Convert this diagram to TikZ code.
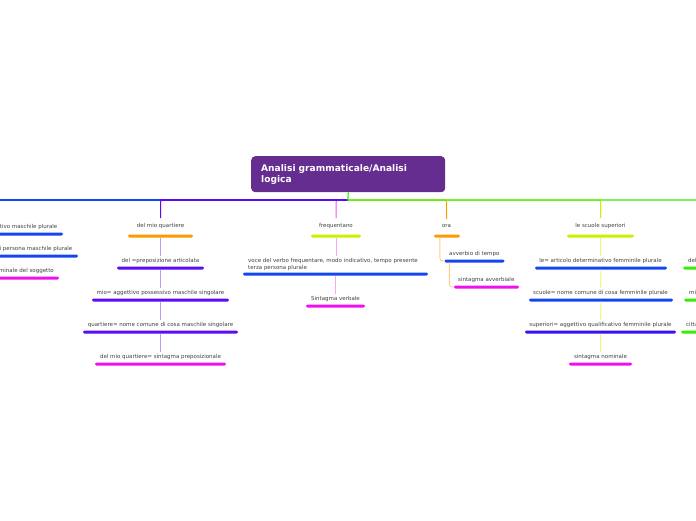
\documentclass[tikz,border=0pt]{standalone}
\usepackage{fontspec}
\setmainfont{DejaVu Sans}
\definecolor{rootpurple}{HTML}{662D91}
\definecolor{textgray}{HTML}{404040}
\definecolor{cblue}{HTML}{1446F0}
\definecolor{cpurple}{HTML}{5B0AF5}
\definecolor{cindigo}{HTML}{3A10F0}
\definecolor{cmagenta}{HTML}{EE11EE}
\definecolor{corange}{HTML}{FF9900}
\definecolor{clime}{HTML}{CCF000}
\definecolor{cgreen}{HTML}{33EE00}
\definecolor{clavender}{HTML}{BB99FF}
\definecolor{clpink}{HTML}{F7A8F7}
\definecolor{cpink}{HTML}{EE55EE}
\definecolor{clorange}{HTML}{FFCC88}
\definecolor{clyellow}{HTML}{EEF577}
\begin{document}
\begin{tikzpicture}[x=1pt,y=-1pt,
  txt/.style={text=textgray, font=\fontsize{5.5}{6.4}\selectfont, inner sep=0pt},
  barnode/.style={fill=#1, rounded corners=1.4pt, inner sep=0pt, minimum height=3pt},
  mainline/.style={draw=#1, line width=1.2pt},
  topconn/.style={draw=#1, line width=1pt, rounded corners=2pt, shorten >=5pt},
  subconn/.style={draw=#1, line width=0.9pt, shorten >=2.5pt},
  rootbox/.style={fill=rootpurple, rounded corners=4pt, text=white,
    font=\fontsize{9.1}{11}\bfseries, align=left, text width=174pt,
    inner xsep=10pt, inner ysep=0pt, minimum height=36pt, anchor=north west}
]
\useasboundingbox (0,0) rectangle (696,520);
\begin{scope}
\clip (0,0) rectangle (696,520);

% root
\node[rootbox] (root) at (251,156) {Analisi grammaticale/Analisi\\logica};
\coordinate (hub) at (348,200);
\coordinate (lend) at (-10,200);
\coordinate (rend) at (710,200);

% ---- left (clipped) column ----
\node[txt, anchor=east] (l1) at (57.5,227) {i= articolo determinativo maschile plurale};
\node[barnode=cblue, minimum width=80pt] (lb1) at (23,234) {};
\node[txt, anchor=east] (l2) at (72.5,249) {ragazzi= nome comune di persona maschile plurale};
\node[barnode=cblue, minimum width=100pt] (lb2) at (28,256) {};
\node[txt, anchor=east] (l3) at (54,271) {i ragazzi= sintagma nominale del soggetto};
\node[barnode=cmagenta, minimum width=80pt] (lb3) at (19,278) {};

% ---- column: del mio quartiere ----
\node[txt] (q0) at (160.5,226) {del mio quartiere};
\node[barnode=corange, minimum width=65pt] (qb0) at (160.5,236) {};
\node[txt] (q1) at (160.5,261) {del =preposizione articolata};
\node[barnode=cpurple, minimum width=87pt] (qb1) at (160.5,268) {};
\node[txt] (q2) at (160.5,293) {mio= aggettivo possessivo maschile singolare};
\node[barnode=cpurple, minimum width=137pt] (qb2) at (160.5,300) {};
\node[txt] (q3) at (160.5,325) {quartiere= nome comune di cosa maschile singolare};
\node[barnode=cpurple, minimum width=155pt] (qb3) at (160.5,332) {};
\node[txt] (q4) at (160.5,357) {del mio quartiere= sintagma preposizionale};
\node[barnode=cmagenta, minimum width=131pt] (qb4) at (160.5,364) {};
\foreach \a/\b in {qb0/q1,qb1/q2,qb2/q3,qb3/q4}
  \draw[subconn=clavender] (\a.south) -- (\b.north);

% ---- column: frequentano ----
\node[txt] (f0) at (336,226) {frequentano};
\node[barnode=clime, minimum width=50pt] (fb0) at (336,236) {};
\node[txt, anchor=north west, align=left] (f1) at (248,258.3) {voce del verbo frequentare, modo indicativo, tempo presente\\terza persona plurale};
\node[barnode=cblue, minimum width=185pt] (fb1) at (335.5,274) {};
\node[txt] (f2) at (335.5,299) {Sintagma verbale};
\node[barnode=cmagenta, minimum width=59pt] (fb2) at (335.5,306) {};
\draw[subconn=clpink] (fb0.south) -- (fb0.south |- f1.north);
\draw[subconn=clpink] (fb1.south) -- (f2.north);

% ---- column: ora ----
\node[txt] (o0) at (446.5,226) {ora};
\node[barnode=corange, minimum width=26pt] (ob0) at (447,236) {};
\node[txt, anchor=west] (o1) at (449,254) {avverbio di tempo};
\node[barnode=cblue, minimum width=60pt] (ob1) at (474.5,261) {};
\node[txt, anchor=west] (o2) at (458,280) {sintagma avverbiale};
\node[barnode=cmagenta, minimum width=65pt] (ob2) at (486.5,287) {};
\draw[draw=clorange, line width=0.9pt, rounded corners=3pt] ([xshift=6pt]ob0.south west) |- (ob1.west);
\draw[draw=clorange, line width=0.9pt, rounded corners=3pt] ([xshift=5pt]ob1.south west) |- (ob2.west);

% ---- column: le scuole superiori ----
\node[txt] (s0) at (600.5,226) {le scuole superiori};
\node[barnode=clime, minimum width=67pt] (sb0) at (600.5,236) {};
\node[txt] (s1) at (600.5,261) {le= articolo determinativo femminile plurale};
\node[barnode=cblue, minimum width=132pt] (sb1) at (601,268) {};
\node[txt] (s2) at (600.5,293) {scuole= nome comune di cosa femminile plurale};
\node[barnode=cblue, minimum width=144pt] (sb2) at (601,300) {};
\node[txt] (s3) at (600.5,325) {superiori= aggettivo qualificativo femminile plurale};
\node[barnode=cindigo, minimum width=151pt] (sb3) at (600.5,332) {};
\node[txt] (s4) at (600.5,357) {sintagma nominale};
\node[barnode=cmagenta, minimum width=63pt] (sb4) at (600.5,364) {};
\foreach \a/\b in {sb0/s1,sb1/s2,sb2/s3,sb3/s4}
  \draw[subconn=clyellow] (\a.south) -- (\b.north);

% ---- right (clipped) column ----
\node[txt, anchor=west] (r1) at (688,261) {della= preposizione articolata};
\node[barnode=cgreen, minimum width=90pt, anchor=west] (rb1) at (683,268) {};
\node[txt, anchor=west] (r2) at (689,293) {mia= aggettivo possessivo femminile singolare};
\node[barnode=cgreen, minimum width=130pt, anchor=west] (rb2) at (684,300) {};
\node[txt, anchor=west] (r3) at (686,325) {città= nome comune di cosa femminile singolare};
\node[barnode=cgreen, minimum width=140pt, anchor=west] (rb3) at (681,332) {};

% ---- main connectors ----
\draw[mainline=cblue] (hub) -- (lend);
\draw[topconn=cpink] (hub) -- (336,200) -- (f0.north);
\draw[topconn=cpurple] (hub) -- (160.5,200) -- (q0.north);
\draw[topconn=corange] (hub) -- (446.5,200) -- (o0.north);
\draw[topconn=clime] (hub) -- (600.5,200) -- (s0.north);
\draw[mainline=cpurple] (hub) -- (160,200);
\draw[mainline=cgreen] (root.south) -- (hub) -- (rend);
\end{scope}
\end{tikzpicture}
\end{document}
